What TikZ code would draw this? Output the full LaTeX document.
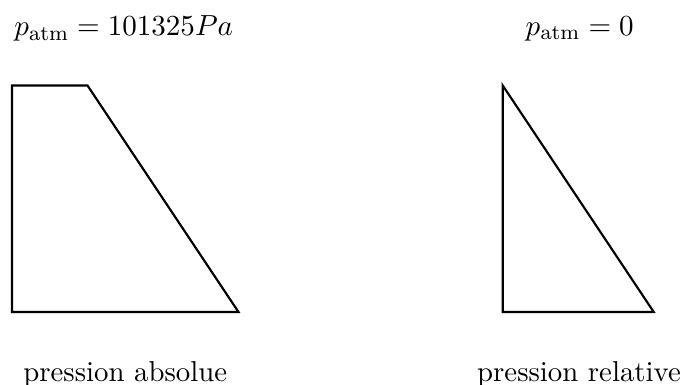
\documentclass[tikz,border=0pt]{standalone}
\begin{document}
\begin{tikzpicture}[outline/.style={draw,thick,line join=miter}, lab/.style={inner sep=0pt,font=\fontsize{10.85}{13}\selectfont}]
\useasboundingbox (-0.159,-0.967) rectangle (8.848,4.132);
\draw[outline] (0,0) coordinate (a1) -- (3,0) coordinate (a2) -- (1,3) coordinate (a3) -- (0,3) coordinate (a4) -- cycle;
\draw[outline] (6.5,0) coordinate (b1) -- (8.5,0) coordinate (b2) -- (6.5,3) coordinate (b3) -- cycle;
\node[lab] (t1) at (1.48,3.75) {$p_{\mathrm{atm}} = 101325 Pa$};
\node[lab] (t2) at (7.52,3.75) {$p_{\mathrm{atm}} = 0$};
\node[lab] (l1) at (1.5,-0.82) {pression absolue};
\node[lab] (l2) at (7.51,-0.82) {pression relative};
\end{tikzpicture}
\end{document}
